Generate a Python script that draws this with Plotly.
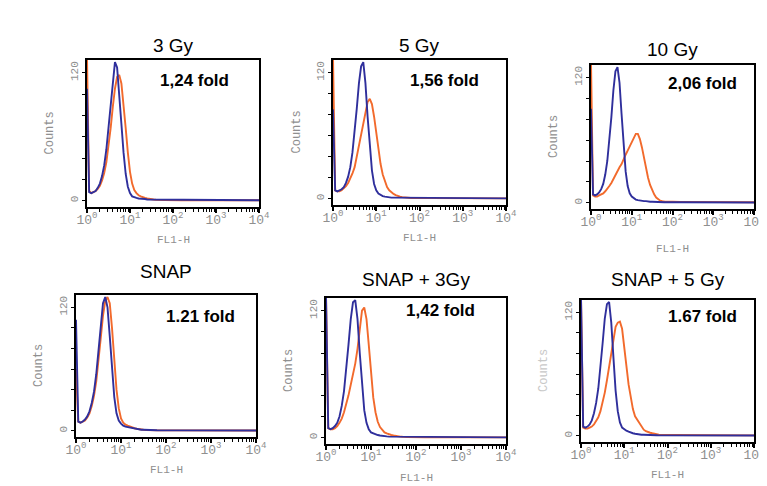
import plotly.graph_objects as go

# ---------------- data ----------------
panel_titles = ["3 Gy", "5 Gy", "10 Gy", "SNAP", "SNAP + 3Gy", "SNAP + 5 Gy"]
fold_labels = ["1,24 fold", "1,56 fold", "2,06 fold", "1.21 fold", "1,42 fold", "1.67 fold"]

# FL1-H channel positions (log10 of intensity)
fl1_log = [0.00, 0.05, 0.10, 0.15, 0.20, 0.25, 0.30, 0.35, 0.40, 0.45,
           0.50, 0.55, 0.60, 0.65, 0.70, 0.75, 0.80, 0.85, 0.90, 0.95,
           1.00, 1.05, 1.10, 1.15, 1.20, 1.25, 1.30, 1.35, 1.40, 1.45,
           1.50, 1.55, 1.60, 1.65, 1.70, 1.75, 1.80, 2.20, 3.00, 4.00]

# control (blue) histograms
blue_3gy = [105, 8, 7, 8, 9, 12, 16, 23, 33, 48, 68, 92, 115, 130, 125, 102, 72, 45, 25, 13,
            7, 4, 3, 2.5, 2, 2, 1.5, 1.5, 1, 1, 1, 1, 0.8, 0.8, 0.6, 0.6, 0.5, 0.5, 0.3, 0.3]
blue_5gy = [85, 8, 7, 8, 9, 11, 15, 21, 30, 44, 62, 86, 110, 126, 130, 110, 78, 48, 27, 14,
            8, 5, 3.5, 2.5, 2, 1.5, 1.5, 1, 1, 1, 0.8, 0.8, 0.6, 0.6, 0.5, 0.5, 0.5, 0.4, 0.3, 0.3]
blue_10gy = [90, 8, 7, 8, 10, 13, 18, 27, 40, 58, 82, 108, 126, 130, 115, 85, 55, 30, 16, 9,
             6, 4, 3, 2.5, 2, 2, 1.5, 1.5, 1, 1, 1, 0.8, 0.8, 0.6, 0.6, 0.5, 0.5, 0.4, 0.3, 0.3]
blue_snap = [108, 9, 8, 9, 11, 14, 19, 27, 38, 55, 78, 104, 124, 130, 120, 92, 60, 33, 17, 10,
             7, 5, 4, 3.5, 3, 2.5, 2, 1.5, 1.2, 1, 1, 0.8, 0.8, 0.6, 0.6, 0.5, 0.5, 0.4, 0.3, 0.3]
blue_snap3 = [135, 9, 8, 9, 11, 14, 20, 30, 44, 63, 88, 112, 128, 130, 112, 80, 48, 26, 14, 8,
              5, 4, 3, 2.5, 2, 1.5, 1.5, 1.2, 1, 1, 0.8, 0.8, 0.6, 0.6, 0.5, 0.5, 0.4, 0.4, 0.3, 0.3]
blue_snap5 = [135, 9, 8, 9, 11, 15, 22, 32, 46, 66, 90, 114, 128, 130, 110, 76, 44, 24, 13, 8,
              6, 5, 4, 3, 2.5, 2, 1.5, 1.2, 1, 1, 0.8, 0.8, 0.6, 0.6, 0.5, 0.5, 0.4, 0.4, 0.3, 0.3]

# treated (orange) histograms
orange_3gy = [135, 9, 7, 8, 9, 11, 14, 19, 26, 36, 50, 68, 88, 105, 116, 118, 110, 92, 68, 45,
              27, 16, 10, 7, 5, 4, 3, 2.5, 2, 1.5, 1.2, 1, 0.8, 0.7, 0.6, 0.5, 0.5, 0.4, 0.3, 0.3]
orange_5gy = [135, 8, 7, 7, 8, 10, 12, 15, 19, 24, 30, 40, 52, 62, 72, 82, 92, 95, 90, 78,
              62, 46, 33, 23, 16, 11, 8, 6, 4.5, 3.5, 2.5, 2, 1.5, 1.2, 1, 0.8, 0.7, 0.5, 0.4, 0.3]
orange_10gy = [135, 7, 6, 6, 7, 8, 9, 11, 13, 16, 19, 23, 27, 31, 34, 37, 42, 46, 50, 54,
               58, 63, 66, 66, 61, 53, 42, 32, 24, 17, 12, 8, 5, 3, 2, 1.5, 1.2, 0.8, 0.5, 0.4]
orange_snap = [60, 9, 8, 9, 10, 13, 17, 24, 34, 48, 67, 90, 112, 126, 130, 124, 100, 68, 40, 22,
               12, 8, 6, 5, 4, 3, 2.5, 2, 1.5, 1.2, 1, 0.8, 0.7, 0.6, 0.5, 0.5, 0.4, 0.4, 0.3, 0.3]
orange_snap3 = [135, 9, 8, 8, 9, 11, 14, 18, 24, 31, 40, 50, 60, 70, 84, 104, 120, 123, 112, 88,
                60, 38, 24, 15, 10, 7, 5, 4, 3, 2.5, 2, 1.5, 1.2, 1, 0.8, 0.6, 0.5, 0.4, 0.3, 0.3]
orange_snap5 = [135, 8, 7, 7, 8, 9, 11, 14, 18, 24, 32, 42, 54, 68, 82, 96, 106, 110, 111, 104,
                88, 68, 50, 36, 26, 19, 16, 13, 9, 6, 4.5, 3.5, 3, 2.5, 2, 1.5, 1.2, 0.8, 0.5, 0.4]

blue_series = [blue_3gy, blue_5gy, blue_10gy, blue_snap, blue_snap3, blue_snap5]
orange_series = [orange_3gy, orange_5gy, orange_10gy, orange_snap, orange_snap3, orange_snap5]

x_tick_vals = [1, 10, 100, 1000, 10000]
x_tick_text = ["10<sup>0</sup>", "10<sup>1</sup>", "10<sup>2</sup>", "10<sup>3</sup>", "10<sup>4</sup>"]
y_tick_vals = [0, 120]
y_tick_text = ["0", "120"]

# ---------------- layout ----------------
W, H = 767, 486
# panel boxes in pixels: left, right, top, bottom
boxes = [(79, 251, 52, 199), (325, 498, 52, 197), (583, 746, 57, 201),
         (68, 248, 287, 429), (318, 498, 290, 436), (573, 746, 292, 434)]
title_y = [37, 37, 42, 263, 271, 271]
fold_pos = [(186, 72), (436, 72), (694, 76), (192, 308), (432, 302), (694, 308)]
xlabel_off = [33, 33, 40, 33, 34, 33]

BLUE = "#2f2f9c"
ORANGE = "#f26a2c"
GRAY = "#8f8f8f"
MONO = "Liberation Mono, Courier New, monospace"
SANS = "Liberation Sans, Arial, sans-serif"

x_vals = [10 ** v for v in fl1_log]
minor_x = [m * 10 ** d for d in range(4) for m in range(2, 10)]

fig = go.Figure()
annotations = []
for i in range(6):
    ax = "" if i == 0 else str(i + 1)
    l, r, t, b = boxes[i]
    xd = [l / W, r / W]
    yd = [1 - b / H, 1 - t / H]
    fig.add_trace(go.Scatter(x=x_vals, y=orange_series[i], mode="lines",
                             line=dict(color=ORANGE, width=1.9),
                             xaxis="x" + ax, yaxis="y" + ax, hoverinfo="skip"))
    fig.add_trace(go.Scatter(x=x_vals, y=blue_series[i], mode="lines",
                             line=dict(color=BLUE, width=1.9),
                             xaxis="x" + ax, yaxis="y" + ax, hoverinfo="skip"))
    fig.layout["xaxis" + ax] = dict(
        domain=xd, anchor="y" + ax, type="log", range=[0, 4], automargin=False,
        tickmode="array", tickvals=x_tick_vals, ticktext=x_tick_text,
        ticks="outside", ticklen=4, tickwidth=1.5, tickcolor="black",
        ticklabelstandoff=-5,
        minor=dict(tickmode="array", tickvals=minor_x, ticks="outside", ticklen=3,
                   tickwidth=1.2, tickcolor="black", showgrid=False),
        showline=True, linecolor="black", linewidth=2, mirror=True,
        showgrid=False, zeroline=False,
        tickfont=dict(family=MONO, size=13, color=GRAY),
    )
    fig.layout["yaxis" + ax] = dict(
        domain=yd, anchor="x" + ax, range=[-6, 132], automargin=False,
        tickmode="array", tickvals=y_tick_vals, ticktext=y_tick_text, tickangle=-90,
        ticks="outside", ticklen=3, tickcolor="black",
        minor=dict(tickmode="linear", tick0=0, dtick=20, ticks="outside", ticklen=3,
                   tickcolor="black", showgrid=False),
        showline=True, linecolor="black", linewidth=1.5, mirror=True,
        showgrid=False, zeroline=False,
        tickfont=dict(family=MONO, size=11, color=GRAY),
    )
    cx = (l + r) / 2
    annotations.append(dict(text=panel_titles[i], x=cx / W, y=1 - title_y[i] / H,
                            xref="paper", yref="paper", showarrow=False,
                            xanchor="center", yanchor="middle",
                            font=dict(family=SANS, size=19, color="black")))
    fx, fy = fold_pos[i]
    annotations.append(dict(text=fold_labels[i], x=fx / W, y=1 - fy / H,
                            xref="paper", yref="paper", showarrow=False,
                            xanchor="center", yanchor="middle",
                            font=dict(family=SANS, size=17, color="black", weight="bold")))
    annotations.append(dict(text="Counts", x=(l - 37) / W, y=1 - ((t + b) / 2) / H,
                            xref="paper", yref="paper", showarrow=False, textangle=-90,
                            xanchor="center", yanchor="middle",
                            font=dict(family=MONO, size=12,
                                      color="#c8c8c8" if i == 5 else GRAY)))
    annotations.append(dict(text="FL1-H", x=cx / W, y=1 - (b + xlabel_off[i]) / H,
                            xref="paper", yref="paper", showarrow=False,
                            xanchor="center", yanchor="middle",
                            font=dict(family=MONO, size=11, color=GRAY)))

fig.update_layout(width=W, height=H, margin=dict(l=0, r=0, t=0, b=0),
                  paper_bgcolor="white", plot_bgcolor="white",
                  showlegend=False, annotations=annotations)

fig.write_html("out.html")
